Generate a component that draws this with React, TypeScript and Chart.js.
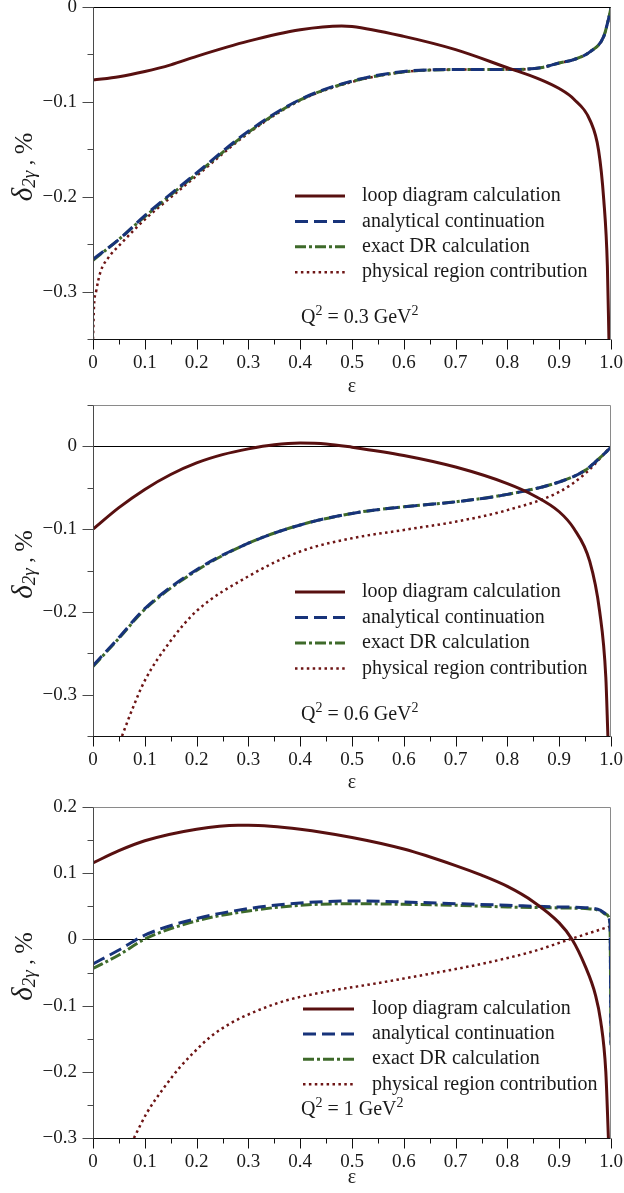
import React, { useEffect, useRef } from 'react';
import { Chart, registerables } from 'chart.js';

Chart.register(...registerables);

const FONT = '"Liberation Serif", "Times New Roman", serif';

// ---------- shared axis data ----------
const xTickValues = [0, 0.1, 0.2, 0.3, 0.4, 0.5, 0.6, 0.7, 0.8, 0.9, 1.0];
const xTickLabels = ['0', '0.1', '0.2', '0.3', '0.4', '0.5', '0.6', '0.7', '0.8', '0.9', '1.0'];
const xMinorTicks = [0.05, 0.15, 0.25, 0.35, 0.45, 0.55, 0.65, 0.75, 0.85, 0.95];

const seriesNames = [
  'loop diagram calculation',
  'analytical continuation',
  'exact DR calculation',
  'physical region contribution',
];

// ---------- panel 1 : Q^2 = 0.3 GeV^2 ----------
const p1YTicks = [0, -0.1, -0.2, -0.3];
const p1YTickLabels = ['0', '\u22120.1', '\u22120.2', '\u22120.3'];
const p1YMinor = [-0.05, -0.15, -0.25, -0.35];

const p1LoopEps = [0, 0.05, 0.1, 0.15, 0.2, 0.3, 0.4, 0.48, 0.5, 0.6, 0.7, 0.8, 0.864, 0.9, 0.928, 0.96, 0.976, 0.986, 0.993, 0.996];
const p1Loop = [-0.077, -0.0735, -0.068, -0.061, -0.052, -0.036, -0.024, -0.02, -0.0205, -0.031, -0.045, -0.064, -0.0765, -0.086, -0.097, -0.12, -0.151, -0.203, -0.273, -0.35];

const p1ContEps = [0, 0.05, 0.1, 0.2, 0.3, 0.4, 0.5, 0.6, 0.7, 0.8, 0.864, 0.9, 0.928, 0.96, 0.986, 0.995, 1.0];
const p1Analytic = [-0.266, -0.245, -0.22, -0.175, -0.131, -0.0975, -0.078, -0.068, -0.066, -0.066, -0.064, -0.059, -0.0555, -0.047, -0.031, -0.013, -0.001];
const p1Exact = [-0.267, -0.245, -0.221, -0.176, -0.132, -0.098, -0.0785, -0.0685, -0.066, -0.066, -0.064, -0.059, -0.0555, -0.047, -0.031, -0.013, -0.001];

const p1PhysEps = [0, 0.002, 0.006, 0.014, 0.03, 0.053, 0.1, 0.145, 0.2, 0.3, 0.4, 0.5, 0.6, 0.7, 0.8, 0.864, 0.9, 0.928, 0.96, 0.986, 0.995, 1.0];
const p1Phys = [-0.35, -0.315, -0.3, -0.28, -0.264, -0.25, -0.224, -0.203, -0.178, -0.133, -0.0985, -0.079, -0.0685, -0.066, -0.066, -0.064, -0.059, -0.0555, -0.047, -0.031, -0.013, -0.001];

// ---------- panel 2 : Q^2 = 0.6 GeV^2 ----------
const p2YTicks = [0, -0.1, -0.2, -0.3];
const p2YTickLabels = ['0', '\u22120.1', '\u22120.2', '\u22120.3'];
const p2YMinor = [0.05, -0.05, -0.15, -0.25, -0.35];

const p2LoopEps = [0, 0.05, 0.1, 0.15, 0.2, 0.25, 0.3, 0.35, 0.4, 0.45, 0.5, 0.6, 0.7, 0.8, 0.85, 0.9, 0.928, 0.959, 0.978, 0.99, 0.994];
const p2Loop = [-0.1, -0.074, -0.052, -0.034, -0.02, -0.01, -0.003, 0.002, 0.004, 0.003, -0.001, -0.011, -0.025, -0.045, -0.059, -0.079, -0.099, -0.139, -0.199, -0.279, -0.35];

const p2ContEps = [0, 0.05, 0.1, 0.2, 0.3, 0.4, 0.5, 0.6, 0.7, 0.8, 0.9, 0.95, 0.98, 1.0];
const p2Analytic = [-0.265, -0.231, -0.196, -0.149, -0.117, -0.095, -0.081, -0.073, -0.067, -0.058, -0.043, -0.029, -0.013, -0.001];
const p2Exact = [-0.266, -0.232, -0.197, -0.15, -0.117, -0.095, -0.081, -0.073, -0.067, -0.058, -0.043, -0.029, -0.013, -0.001];

const p2PhysEps = [0.056, 0.075, 0.1, 0.15, 0.2, 0.3, 0.4, 0.5, 0.6, 0.7, 0.8, 0.9, 0.95, 1.0];
const p2Phys = [-0.35, -0.319, -0.283, -0.235, -0.199, -0.157, -0.127, -0.111, -0.101, -0.091, -0.077, -0.055, -0.033, 0];

// ---------- panel 3 : Q^2 = 1 GeV^2 ----------
const p3YTicks = [0.2, 0.1, 0, -0.1, -0.2, -0.3];
const p3YTickLabels = ['0.2', '0.1', '0', '\u22120.1', '\u22120.2', '\u22120.3'];
const p3YMinor = [0.15, 0.05, -0.05, -0.15, -0.25];

const p3LoopEps = [0, 0.05, 0.1, 0.2, 0.28, 0.3, 0.4, 0.5, 0.6, 0.7, 0.75, 0.8, 0.85, 0.9, 0.925, 0.95, 0.97, 0.98, 0.99, 0.995];
const p3Loop = [0.1155, 0.134, 0.149, 0.1665, 0.1725, 0.1725, 0.1665, 0.154, 0.1365, 0.1115, 0.097, 0.08, 0.057, 0.025, 0.0, -0.04, -0.084, -0.123, -0.2, -0.3];

const p3ContEps = [0, 0.05, 0.1, 0.2, 0.3, 0.4, 0.5, 0.6, 0.7, 0.8, 0.9, 0.95, 0.98, 0.99, 0.998, 1.0];
const p3Analytic = [-0.037, -0.016, 0.0065, 0.0315, 0.0465, 0.055, 0.058, 0.0565, 0.054, 0.0515, 0.049, 0.048, 0.044, 0.039, 0.025, -0.16];
const p3Exact = [-0.044, -0.0235, 0.0005, 0.028, 0.043, 0.0515, 0.054, 0.053, 0.0515, 0.049, 0.0475, 0.0465, 0.043, 0.038, 0.024, -0.16];

const p3PhysEps = [0.079, 0.104, 0.136, 0.168, 0.193, 0.227, 0.265, 0.313, 0.374, 0.45, 0.55, 0.65, 0.75, 0.85, 0.92, 1.0];
const p3Phys = [-0.3, -0.262, -0.225, -0.193, -0.172, -0.147, -0.127, -0.109, -0.092, -0.079, -0.066, -0.052, -0.037, -0.018, 0, 0.02];

const qValues = ['0.3', '0.6', '1'];

// ---------- styles ----------
const seriesStyles = [
  { color: '#581010', width: 3, dash: [] as number[] },
  { color: '#17337a', width: 3, dash: [13, 6] },
  { color: '#3e6a2a', width: 3, dash: [11, 3, 3, 3] },
  { color: '#6e1515', width: 2.5, dash: [2.5, 3.4] },
];

const toPts = (xs: number[], ys: number[]) => xs.map((x, i) => ({ x, y: ys[i] }));

type PanelDef = {
  height: number;
  top: number;
  xHeight: number;
  yMin: number;
  yMax: number;
  yTicks: number[];
  yTickLabels: string[];
  yMinor: number[];
  series: { x: number; y: number }[][];
  q: string;
  legendX0: number;
  legendX1: number;
  textX: number;
  rowY: number;
  rowStep: number;
  qX: number;
  qY: number;
  epsY: number;
};

const panels: PanelDef[] = [
  {
    height: 398, top: 7, xHeight: 59, yMin: -0.35, yMax: 0,
    yTicks: p1YTicks, yTickLabels: p1YTickLabels, yMinor: p1YMinor,
    series: [toPts(p1LoopEps, p1Loop), toPts(p1ContEps, p1Analytic), toPts(p1ContEps, p1Exact), toPts(p1PhysEps, p1Phys)],
    q: qValues[0], legendX0: 295, legendX1: 345, textX: 362, rowY: 196, rowStep: 25.4, qX: 301, qY: 316, epsY: 387,
  },
  {
    height: 398, top: 7, xHeight: 60, yMin: -0.35, yMax: 0.05,
    yTicks: p2YTicks, yTickLabels: p2YTickLabels, yMinor: p2YMinor,
    series: [toPts(p2LoopEps, p2Loop), toPts(p2ContEps, p2Analytic), toPts(p2ContEps, p2Exact), toPts(p2PhysEps, p2Phys)],
    q: qValues[1], legendX0: 295, legendX1: 345, textX: 362, rowY: 194, rowStep: 25.5, qX: 301, qY: 315, epsY: 385,
  },
  {
    height: 397, top: 11, xHeight: 55, yMin: -0.3, yMax: 0.2,
    yTicks: p3YTicks, yTickLabels: p3YTickLabels, yMinor: p3YMinor,
    series: [toPts(p3LoopEps, p3Loop), toPts(p3ContEps, p3Analytic), toPts(p3ContEps, p3Exact), toPts(p3PhysEps, p3Phys)],
    q: qValues[2], legendX0: 303, legendX1: 354, textX: 372, rowY: 213, rowStep: 25.1, qX: 301, qY: 312, epsY: 382,
  },
];

const TEXT = '#1a1a1a';

const decorPlugin = {
  id: 'decor',
  beforeDatasetsDraw(chart: any) {
    const { ctx, chartArea: ca, scales } = chart;
    const y0 = Math.round(scales.y.getPixelForValue(0)) + 0.5;
    ctx.save();
    ctx.strokeStyle = '#000';
    ctx.lineWidth = 1;
    ctx.beginPath();
    ctx.moveTo(ca.left, y0);
    ctx.lineTo(ca.right, y0);
    ctx.stroke();
    ctx.restore();
  },
  afterDraw(chart: any, _args: any, o: any) {
    const { ctx, chartArea: ca, scales } = chart;
    const xs = scales.x;
    const ys = scales.y;
    const L = Math.round(ca.left) + 0.5;
    const R = Math.round(ca.right) - 0.5;
    const T = Math.round(ca.top) + 0.5;
    const B = Math.round(ca.bottom) + 0.5;
    ctx.save();
    ctx.lineWidth = 1;
    ctx.strokeStyle = '#8a8a8a';
    ctx.beginPath();
    ctx.moveTo(L, T);
    ctx.lineTo(R, T);
    ctx.lineTo(R, B);
    ctx.stroke();
    if (o.yMax === 0) {
      ctx.strokeStyle = '#000';
      ctx.beginPath();
      ctx.moveTo(L, T);
      ctx.lineTo(R, T);
      ctx.stroke();
    }
    ctx.strokeStyle = '#4a4a4a';
    ctx.beginPath();
    ctx.moveTo(L, T);
    ctx.lineTo(L, B);
    ctx.stroke();
    const yTick = (v: number, len: number) => {
      const p = Math.round(ys.getPixelForValue(v)) + 0.5;
      ctx.beginPath();
      ctx.moveTo(L - len, p);
      ctx.lineTo(L, p);
      ctx.stroke();
    };
    o.yTicks.forEach((v: number) => yTick(v, 11));
    o.yMinor.forEach((v: number) => yTick(v, 6));
    ctx.strokeStyle = '#111';
    ctx.beginPath();
    ctx.moveTo(L, B);
    ctx.lineTo(R, B);
    ctx.stroke();
    const xTick = (v: number, len: number) => {
      const p = Math.round(xs.getPixelForValue(v)) + 0.5;
      ctx.beginPath();
      ctx.moveTo(p, B);
      ctx.lineTo(p, B + len);
      ctx.stroke();
    };
    xTickValues.forEach((v) => xTick(v, 10));
    xMinorTicks.forEach((v) => xTick(v, 5));

    // legend
    chart.data.datasets.forEach((ds: any, i: number) => {
      const yy = o.rowY + i * o.rowStep;
      ctx.save();
      ctx.strokeStyle = ds.borderColor;
      ctx.lineWidth = ds.borderWidth;
      ctx.setLineDash(ds.borderDash || []);
      ctx.beginPath();
      ctx.moveTo(o.legendX0, yy);
      ctx.lineTo(o.legendX1, yy);
      ctx.stroke();
      ctx.restore();
      ctx.fillStyle = TEXT;
      ctx.font = `20px ${FONT}`;
      ctx.textBaseline = 'middle';
      ctx.textAlign = 'left';
      ctx.fillText(ds.label, o.textX, yy);
    });

    // Q^2 annotation
    ctx.fillStyle = TEXT;
    ctx.textBaseline = 'alphabetic';
    ctx.textAlign = 'left';
    const base = o.qY + 7;
    let cx = o.qX;
    const big = `20px ${FONT}`;
    const small = `14px ${FONT}`;
    const part = (t: string, f: string, dy: number) => {
      ctx.font = f;
      ctx.fillText(t, cx, base + dy);
      cx += ctx.measureText(t).width;
    };
    part('Q', big, 0);
    part('2', small, -8);
    part(' = ' + o.q + ' GeV', big, 0);
    part('2', small, -8);

    // x title
    ctx.font = `20px ${FONT}`;
    ctx.textAlign = 'center';
    ctx.textBaseline = 'middle';
    ctx.fillText('\u03b5', (ca.left + ca.right) / 2, o.epsY);

    // y title, rotated
    ctx.save();
    const cy = (ca.top + ca.bottom) / 2 - 6;
    ctx.translate(32, cy);
    ctx.rotate(-Math.PI / 2);
    const parts = [
      { t: '\u03b4', f: `italic 29px ${FONT}`, dy: 0 },
      { t: '2\u03b3', f: `italic 19px ${FONT}`, dy: 3 },
      { t: ' , ', f: `22px ${FONT}`, dy: 0 },
      { t: '%', f: `26px ${FONT}`, dy: 0 },
    ];
    let total = 0;
    parts.forEach((p) => {
      ctx.font = p.f;
      total += ctx.measureText(p.t).width;
    });
    let px = -total / 2;
    ctx.textAlign = 'left';
    ctx.textBaseline = 'alphabetic';
    parts.forEach((p) => {
      ctx.font = p.f;
      ctx.fillText(p.t, px, p.dy);
      px += ctx.measureText(p.t).width;
    });
    ctx.restore();
    ctx.restore();
  },
};

function Panel({ def }: { def: PanelDef }) {
  const ref = useRef<HTMLCanvasElement | null>(null);
  useEffect(() => {
    if (!ref.current) return;
    const datasets = def.series.map((pts, i) => ({
      label: seriesNames[i],
      data: pts,
      borderColor: seriesStyles[i].color,
      borderWidth: seriesStyles[i].width,
      borderDash: seriesStyles[i].dash,
      pointRadius: 0,
      fill: false,
      cubicInterpolationMode: 'monotone' as const,
      borderCapStyle: 'butt' as const,
      order: i,
    }));
    const chart = new Chart(ref.current, {
      type: 'line',
      data: { datasets },
      plugins: [decorPlugin],
      options: {
        animation: false,
        responsive: false,
        maintainAspectRatio: false,
        layout: { padding: { top: def.top, right: 13, left: 0, bottom: 0 } },
        plugins: {
          legend: { display: false },
          tooltip: { enabled: false },
          decor: {
            yTicks: def.yTicks,
            yMinor: def.yMinor,
            yMax: def.yMax,
            q: def.q,
            legendX0: def.legendX0,
            legendX1: def.legendX1,
            textX: def.textX,
            rowY: def.rowY,
            rowStep: def.rowStep,
            qX: def.qX,
            qY: def.qY,
            epsY: def.epsY,
          },
        } as any,
        scales: {
          x: {
            type: 'linear',
            min: 0,
            max: 1,
            grid: { display: false, drawTicks: false },
            border: { display: false },
            afterBuildTicks: (s: any) => {
              s.ticks = xTickValues.map((v) => ({ value: v }));
            },
            afterFit: (s: any) => {
              s.height = def.xHeight;
              s.paddingLeft = 0;
              s.paddingRight = 0;
              s.paddingTop = 0;
              s.paddingBottom = 0;
            },
            ticks: {
              autoSkip: false,
              maxRotation: 0,
              padding: 13,
              color: TEXT,
              font: { family: FONT, size: 19, lineHeight: 1.2 },
              callback: (v: any) => {
                const idx = xTickValues.findIndex((t) => Math.abs(t - Number(v)) < 1e-9);
                return idx >= 0 ? xTickLabels[idx] : '';
              },
            },
          },
          y: {
            type: 'linear',
            min: def.yMin,
            max: def.yMax,
            grid: { display: false, drawTicks: false },
            border: { display: false },
            afterBuildTicks: (s: any) => {
              s.ticks = def.yTicks.map((v) => ({ value: v }));
            },
            afterFit: (s: any) => {
              s.width = 93;
              s.paddingLeft = 0;
              s.paddingRight = 0;
              s.paddingTop = 0;
              s.paddingBottom = 0;
            },
            ticks: {
              autoSkip: false,
              padding: 16,
              color: TEXT,
              font: { family: FONT, size: 19, lineHeight: 1.2 },
              callback: (v: any) => {
                const idx = def.yTicks.findIndex((t) => Math.abs(t - Number(v)) < 1e-9);
                return idx >= 0 ? def.yTickLabels[idx] : '';
              },
            },
          },
        },
      } as any,
    });
    return () => chart.destroy();
  }, [def]);
  return <canvas ref={ref} width={624} height={def.height} style={{ display: 'block', width: 624, height: def.height }} />;
}

export default function App() {
  return (
    <div style={{ position: 'absolute', left: 0, top: 0, width: 624, height: 1193, background: '#fff' }}>
      {panels.map((p, i) => (
        <Panel key={i} def={p} />
      ))}
    </div>
  );
}
